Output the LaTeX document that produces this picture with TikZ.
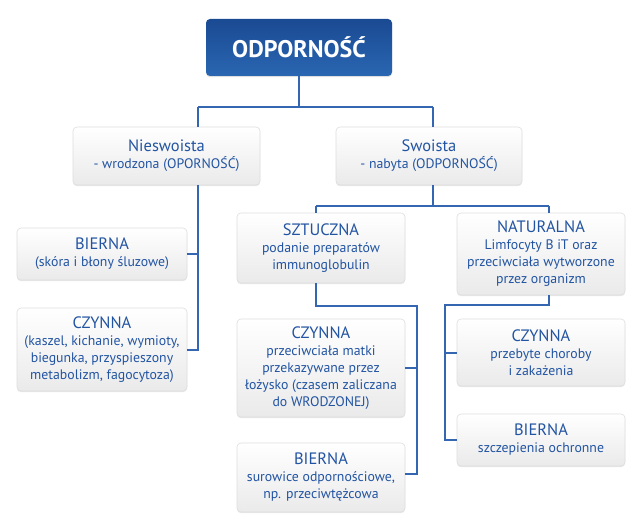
\documentclass[tikz,border=0pt]{standalone}
\usepackage{fontspec}
\setmainfont{PT Sans}
\usetikzlibrary{shadows}
\definecolor{txtblue}{RGB}{34,84,162}
\definecolor{lnblue}{RGB}{52,102,178}
\definecolor{topA}{RGB}{26,74,146}
\definecolor{topB}{RGB}{42,102,178}
\definecolor{boxedge}{RGB}{222,222,222}
\definecolor{boxbot}{RGB}{234,234,234}
\tikzset{
  box/.style={rounded corners=4pt, draw=boxedge, line width=0.6pt, top color=white, bottom color=boxbot,
    drop shadow={opacity=0.18, shadow xshift=0pt, shadow yshift=-1.2pt},
    align=center, text=txtblue, inner sep=0pt,
    font=\fontsize{13.8}{17}\selectfont},
  topbox/.style={rounded corners=4pt, draw=none, top color=topA, bottom color=topB,
    drop shadow={opacity=0.25, shadow xshift=0pt, shadow yshift=-1.2pt},
    text=white, font=\fontsize{24}{26}\selectfont\bfseries, inner sep=0pt},
  ln/.style={draw=lnblue, line width=2pt},
}
\newcommand{\hd}{\fontsize{16.5}{17}\selectfont}
\begin{document}
\begin{tikzpicture}[x=1pt,y=-1pt]
\useasboundingbox[fill=white] (0,0) rectangle (642,532);
\coordinate (a) at (198,107);
\coordinate (b) at (433,107);
\coordinate (c) at (316,206);
\coordinate (d) at (549,206);
\coordinate (e) at (316,306);
\coordinate (f) at (417,306);
\coordinate (g) at (549,305);
\coordinate (h) at (445,305);
\coordinate (k) at (417,474);

\node[topbox, minimum width=186, minimum height=57] (top) at (299,47.5) {ODPORNOŚĆ};
\node[box, minimum width=187, minimum height=58] (nies) at (166.5,156) {{\hd Nieswoista}\\- wrodzona (OPORNOŚĆ)};
\node[box, minimum width=186, minimum height=58] (swo) at (429,156) {{\hd Swoista}\\- nabyta (ODPORNOŚĆ)};
\node[box, minimum width=170, minimum height=52] (bL) at (102,254) {{\hd BIERNA}\\(skóra i błony śluzowe)};
\node[box, minimum width=170, minimum height=83] (cL) at (102,349.5) {{\hd CZYNNA}\\(kaszel, kichanie, wymioty,\\biegunka, przyspieszony\\metabolizm, fagocytoza)};
\node[box, minimum width=168, minimum height=70] (szt) at (321,248) {{\hd SZTUCZNA}\\podanie preparatów\\immunoglobulin};
\node[box, minimum width=168, minimum height=98] (cM) at (321,368) {{\hd CZYNNA}\\przeciwciała matki\\przekazywane przez\\łożysko (czasem zaliczana\\do WRODZONEJ)};
\node[box, minimum width=168, minimum height=69] (bM) at (321,477.5) {{\hd BIERNA}\\surowice odpornościowe,\\np. przeciwtężcowa};
\node[box, minimum width=168, minimum height=82] (nat) at (541,254) {{\hd NATURALNA}\\Limfocyty B iT oraz\\przeciwciała wytworzone\\przez organizm};
\node[box, minimum width=168, minimum height=67] (cR) at (541,352.5) {{\hd CZYNNA}\\przebyte choroby\\i zakażenia};
\node[box, minimum width=168, minimum height=52] (bR) at (541,440) {{\hd BIERNA}\\szczepienia ochronne};

\draw[ln] (top.south) -- (top.south |- a);
\draw[ln] (a) -- (b);
\draw[ln] (a) -- (a |- nies.north);
\draw[ln] (b) -- (b |- swo.north);
\draw[ln] (a |- nies.south) |- (cL.east);
\draw[ln] (bL.east) -- (bL.east -| a);
\draw[ln] (b |- swo.south) -- (b |- c);
\draw[ln] (c) -- (d);
\draw[ln] (c) -- (c |- szt.north);
\draw[ln] (d) -- (d |- nat.north);
\draw[ln] (e |- szt.south) -- (e) -- (f) -- (k) -- (k -| bM.east);
\draw[ln] (cM.east) -- (cM.east -| f);
\draw[ln] (g |- nat.south) -- (g) -- (h) |- (bR.west);
\draw[ln] (cR.west) -- (cR.west -| h);
\end{tikzpicture}
\end{document}
